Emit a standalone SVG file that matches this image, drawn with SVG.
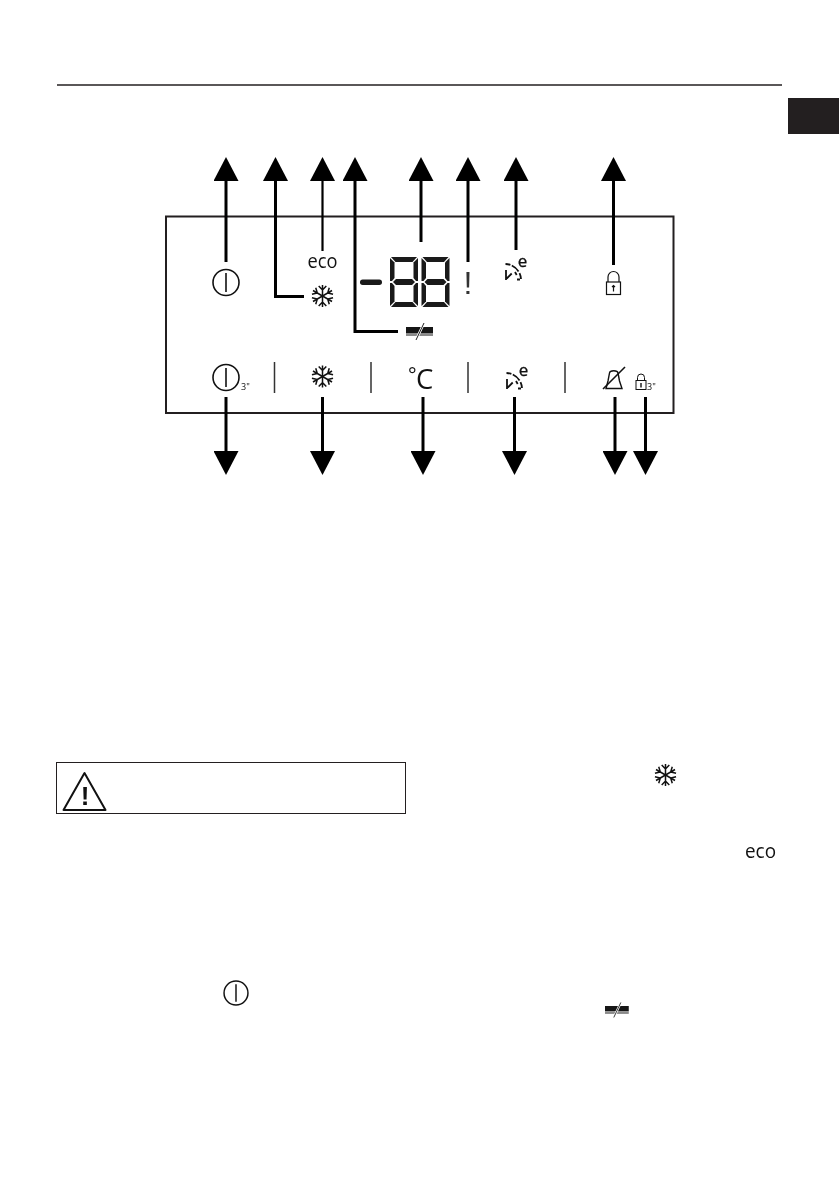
<svg xmlns="http://www.w3.org/2000/svg" xmlns:xlink="http://www.w3.org/1999/xlink" width="839" height="1191" viewBox="0 0 839 1191">
<style>
.k{fill:none;stroke:#000;stroke-width:3}
.t{stroke-width:2.2}
.ln{fill:none;stroke:#231f20}
.sep{fill:none;stroke:#333;stroke-width:1.5}
.ic{fill:none;stroke:#111;stroke-width:1.2}
.seg{fill:#1a1a1a;stroke:none}
.sans{font-family:"Open Sans","Noto Sans",sans-serif;fill:#111}
text{filter:url(#gray)}
</style>
<defs>
<filter id="gray" x="-20%" y="-20%" width="140%" height="140%"><feOffset dx="0" dy="0"/></filter>
<marker id="head" markerUnits="userSpaceOnUse" markerWidth="24" markerHeight="25" refX="0" refY="12.5" orient="auto"><path d="M0 0L24 12.500L0 25Z" fill="#000"/></marker>
<g id="flake" fill="none" stroke="#111" stroke-width="1.500">
<path id="arm" d="M0 -11V11M-3.800 -10L0 -6L3.800 -10M-3.800 10L0 6L3.800 10"/>
<use xlink:href="#arm" transform="rotate(60)"/><use xlink:href="#arm" transform="rotate(120)"/>
</g>
<g id="power" fill="none" stroke="#111"><circle r="13" stroke-width="1.600"/><path d="M0 -9.500V9.500" stroke-width="1.600"/></g>
<g id="melt"><rect x="0" y="0" width="27" height="6" fill="#161616"/><rect x="0" y="6" width="27" height="3" fill="#8a8a8a"/><path d="M10 13L18 -4" stroke="#fff" stroke-width="2.500"/><path d="M10 13L18 -4" stroke="#222" stroke-width="1"/></g>
<g id="dial" fill="none" stroke="#111" stroke-width="1.800"><path d="M0.500 2A16 16 0 0 1 16 17" stroke-dasharray="5 1.500 9 2 8"/><path d="M1 8V18M1.700 16.500L6.700 11.500M10 10L11.700 13M12 17.500H15"/></g>
<g id="digit" class="seg">
<polygon points="1,0 27,0 22.500,5 5.500,5"/>
<polygon points="0,1 4.500,5.500 4.500,21 2,24 0,24"/>
<polygon points="28,1 23.500,5.500 23.500,21 26,24 28,24"/>
<polygon points="3,25 6,22 22,22 25,25 22,28 6,28"/>
<polygon points="0,26 2,26 4.500,29 4.500,44.500 0,49"/>
<polygon points="28,26 26,26 23.500,29 23.500,44.500 28,49"/>
<polygon points="1,50 27,50 22.500,45 5.500,45"/>
</g>
</defs>
<rect width="839" height="1191" fill="#fff"/>
<g id="page-rule"><path d="M57 85H782" class="ln" stroke-width="1.500"/></g>
<rect id="tab" x="788" y="98" width="51" height="36" fill="#231f20"/>
<rect id="panel" x="166" y="216.500" width="507.500" height="196.500" class="ln" stroke-width="2"/>
<g id="separators" class="sep"><path d="M274.500 362V393M371 362V393M468 362V393M565 362V393"/></g>
<g id="connectors">
<path class="k" marker-end="url(#head)" d="M226 262V181"/>
<path class="k" marker-end="url(#head)" d="M304 296.500H275.500V181"/>
<path class="k t" marker-end="url(#head)" d="M322.500 251V181"/>
<path class="k" marker-end="url(#head)" d="M398 331.500H355V181"/>
<path class="k" marker-end="url(#head)" d="M421 242V181"/>
<path class="k" marker-end="url(#head)" d="M468 262V181"/>
<path class="k" marker-end="url(#head)" d="M516 250V181"/>
<path class="k" marker-end="url(#head)" d="M613.500 265V181"/>
<path class="k" marker-end="url(#head)" d="M226 397V451"/>
<path class="k" marker-end="url(#head)" d="M322.500 397V451"/>
<path class="k" marker-end="url(#head)" d="M423 397V451"/>
<path class="k" marker-end="url(#head)" d="M514.500 397V451"/>
<path class="k" marker-end="url(#head)" d="M615 397V451"/>
<path class="k" marker-end="url(#head)" d="M645.500 397V451"/>
</g>
<g id="power-top"><use xlink:href="#power" x="226" y="282.500"/></g>
<g id="flake-top"><use xlink:href="#flake" x="322.500" y="296"/></g>
<g id="eco-top"><text x="307.500" y="268" class="sans" font-size="20.500" textLength="30" lengthAdjust="spacingAndGlyphs">eco</text></g>
<g id="melt-top"><use xlink:href="#melt" x="406" y="327"/></g>
<g id="display">
<rect x="360" y="279.500" width="22" height="5.500" rx="2.700" fill="#1a1a1a"/>
<use xlink:href="#digit" x="390" y="257"/>
<use xlink:href="#digit" x="421.500" y="257"/>
</g>
<g id="alert"><text x="468" y="294" text-anchor="middle" font-family="'Liberation Sans',sans-serif" font-size="32" fill="#333">!</text></g>
<g id="timer-top"><use xlink:href="#dial" x="505" y="262"/><text x="522.500" y="267" text-anchor="middle" class="sans" font-size="17" stroke="#111" stroke-width=".3">e</text></g>
<g id="lock-top" class="ic"><rect x="606.500" y="282" width="14" height="12.500"/><path d="M608 282V277A5.500 5.500 0 0 1 619 277V282"/><path d="M613.500 285.500V291.500M612 287L613.500 285.500L615 287"/></g>
<g id="power-bottom"><use xlink:href="#power" x="226" y="377.500"/><text x="241" y="390" class="sans" font-size="9">3"</text></g>
<g id="flake-bottom"><use xlink:href="#flake" x="322.500" y="376.500"/></g>
<g id="unit"><text x="408" y="381.500" class="sans" font-size="20">°<tspan x="416" y="389" font-size="27.500">C</tspan></text></g>
<g id="timer-bottom"><use xlink:href="#dial" x="506" y="371"/><text x="523.500" y="376" text-anchor="middle" class="sans" font-size="17" stroke="#111" stroke-width=".3">e</text></g>
<g id="bell" class="ic"><path d="M606 388.500H622L619.500 381L618 373C617.500 370 610 370 609.500 373L608 381Z" stroke-width="1.400"/><path d="M603 389L625 367" stroke-width="1.600"/></g>
<g id="lock-bottom" class="ic"><rect x="636" y="380.500" width="10" height="9" stroke-width="1"/><path d="M637.500 380.500V377.500A3.500 3.500 0 0 1 644.500 377.500V380.500" stroke-width="1"/><path d="M641 383V387.500" stroke-width="1.400"/><text x="647" y="390" class="sans" font-size="9" fill="#444" stroke="none">3"</text></g>
<g id="warning">
<rect x="56.500" y="762.500" width="349" height="51" class="ln" stroke-width="1"/>
<path d="M84.500 773L63.500 810H105.500Z" fill="none" stroke="#111" stroke-width="2" stroke-linejoin="round"/>
<text x="85" y="805" text-anchor="middle" font-family="'Liberation Sans',sans-serif" font-weight="700" font-size="26" fill="#111">!</text>
</g>
<g id="flake-text"><use xlink:href="#flake" x="665.500" y="775"/></g>
<g id="eco-text"><text x="745" y="858" class="sans" font-size="20.500" textLength="31" lengthAdjust="spacingAndGlyphs">eco</text></g>
<g id="power-text"><use xlink:href="#power" transform="translate(236 993) scale(.92)"/></g>
<g id="melt-text"><use xlink:href="#melt" transform="translate(605 1006) scale(.88)"/></g>
</svg>
